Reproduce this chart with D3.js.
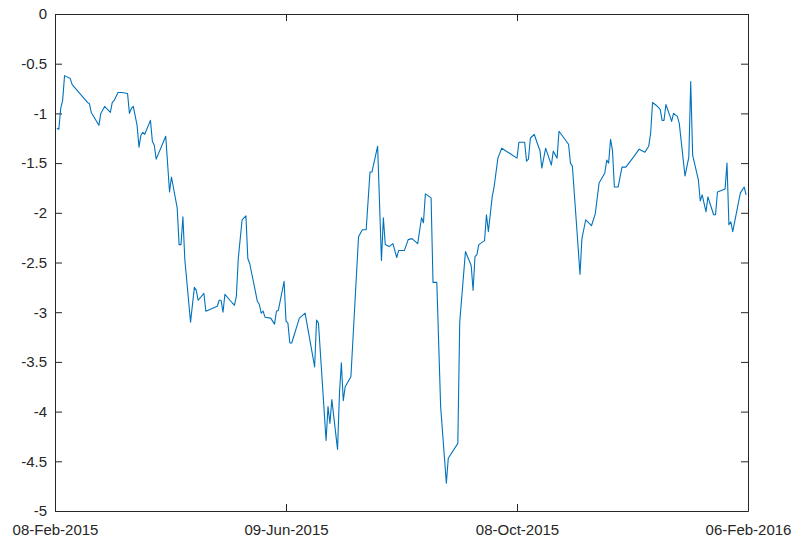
<!DOCTYPE html>
<html>
<head>
<meta charset="utf-8">
<script src="https://cdn.jsdelivr.net/npm/d3@7"></script>
<style>
  html, body { margin: 0; padding: 0; background: #fff; }
  svg { display: block; }
  .tick text { font-family: "Liberation Sans", Arial, Helvetica, sans-serif; font-size: 15px; fill: #262626; }
</style>
</head>
<body>
<svg id="chart" width="794" height="538"></svg>
<script>
// Series: days elapsed since the first date, and the value on that day
const startDate = "2015-02-08";
const endDate = "2016-02-06";
const dayOffsets = [
  1, 2, 3, 4, 5, 6, 8, 9, 17, 18, 19, 23, 24, 26, 29, 30, 31, 33, 35, 38,
  39, 40, 41, 43, 44, 45, 46, 47, 50, 51, 52, 53, 58, 60, 61, 64, 65, 66, 67, 68,
  71, 73, 74, 75, 78, 79, 85, 86, 87, 88, 89, 93, 94, 95, 96, 98, 100, 101, 102, 106,
  107, 108, 109, 110, 113, 115, 116, 117, 120, 121, 122, 123, 124, 128, 131, 136, 137, 138, 142, 143,
  144, 145, 148, 149, 150, 151, 152, 155, 159, 161, 163, 165, 166, 169, 171, 172, 173, 175, 177, 179,
  180, 183, 185, 187, 190, 192, 193, 194, 197, 198, 200, 202, 205, 206, 211, 212, 215, 218, 219, 220,
  221, 222, 225, 226, 227, 229, 230, 232, 234, 242, 243, 246, 247, 248, 249, 251, 253, 254, 255, 257,
  260, 261, 263, 264, 269, 270, 271, 273, 275, 276, 278, 281, 283, 285, 288, 289, 290, 291, 292, 293,
  295, 297, 299, 303, 306, 309, 311, 312, 313, 315, 317, 318, 319, 320, 322, 323, 324, 326, 327, 330,
  332, 333, 334, 337, 338, 339, 341, 342, 345, 346, 347, 351, 352, 353, 354, 355, 359, 361, 362
];
const values = [
  -1.15, -1.16, -0.95, -0.87, -0.62, -0.63, -0.65, -0.71, -0.89, -0.90, -0.99, -1.12, -1.00, -0.93, -0.99, -0.89, -0.87, -0.79, -0.79, -0.80,
  -1.00, -0.95, -0.93, -1.12, -1.34, -1.22, -1.19, -1.21, -1.07, -1.28, -1.32, -1.46, -1.23, -1.79, -1.64, -1.95, -2.32, -2.32, -2.04, -2.47,
  -3.10, -2.75, -2.78, -2.88, -2.81, -2.99, -2.94, -2.88, -2.88, -3.00, -2.82, -2.91, -2.93, -2.84, -2.46, -2.07, -2.03, -2.46, -2.51, -2.89,
  -2.92, -3.01, -2.99, -3.05, -3.06, -3.12, -2.99, -2.98, -2.69, -3.09, -3.11, -3.31, -3.31, -3.06, -3.01, -3.55, -3.08, -3.11, -4.29, -3.95,
  -4.12, -3.88, -4.38, -3.82, -3.51, -3.89, -3.75, -3.65, -2.24, -2.17, -2.17, -1.59, -1.59, -1.33, -2.48, -2.05, -2.32, -2.34, -2.31, -2.45,
  -2.38, -2.38, -2.27, -2.26, -2.31, -2.05, -2.10, -1.81, -1.85, -2.70, -2.70, -3.95, -4.72, -4.47, -4.32, -3.10, -2.39, -2.53, -2.78, -2.44,
  -2.42, -2.32, -2.28, -2.02, -2.19, -1.84, -1.74, -1.45, -1.35, -1.45, -1.29, -1.29, -1.48, -1.46, -1.25, -1.21, -1.32, -1.37, -1.55, -1.35,
  -1.52, -1.38, -1.45, -1.18, -1.31, -1.50, -1.53, -2.07, -2.62, -2.26, -2.07, -2.13, -2.01, -1.70, -1.60, -1.47, -1.50, -1.26, -1.37, -1.74,
  -1.74, -1.54, -1.54, -1.44, -1.36, -1.39, -1.33, -1.20, -0.89, -0.92, -0.96, -1.07, -1.07, -0.91, -1.02, -1.08, -1.00, -1.03, -1.10, -1.63,
  -1.44, -0.68, -1.42, -1.67, -1.88, -1.82, -1.99, -1.84, -2.02, -2.02, -1.79, -1.76, -1.50, -2.12, -2.09, -2.19, -1.80, -1.74, -1.82
];

// Axis ticks
const xTickDates = ["2015-02-08", "2015-06-09", "2015-10-08", "2016-02-06"];
const xTickLabels = ["08-Feb-2015", "09-Jun-2015", "08-Oct-2015", "06-Feb-2016"];
const yTicks = [0, -0.5, -1, -1.5, -2, -2.5, -3, -3.5, -4, -4.5, -5];
const yTickLabels = ["0", "-0.5", "-1", "-1.5", "-2", "-2.5", "-3", "-3.5", "-4", "-4.5", "-5"];

const parse = d3.utcParse("%Y-%m-%d");
const t0 = parse(startDate);
const data = dayOffsets.map((d, i) => ({ date: d3.utcDay.offset(t0, d), value: values[i] }));

const svg = d3.select("#chart");
const plotLeft = 55, plotRight = 748, plotTop = 14, plotBottom = 511;

const x = d3.scaleUtc().domain([t0, parse(endDate)]).range([plotLeft, plotRight]);
const y = d3.scaleLinear().domain([-5, 0]).range([plotBottom, plotTop]);

const axisColor = "#262626";
const tickLen = 7;

const xTicks = xTickDates.map(parse);
const xLabel = d => xTickLabels[xTicks.findIndex(t => +t === +d)];
const yLabel = d => yTickLabels[yTicks.indexOf(d)];

// Bottom and left axes carry the labels; top and right only ticks (boxed frame)
const gx = svg.append("g").attr("transform", `translate(0,${plotBottom})`)
  .call(d3.axisBottom(x).tickValues(xTicks).tickFormat(xLabel).tickSizeInner(-tickLen).tickSizeOuter(0).tickPadding(13));
const gxTop = svg.append("g").attr("transform", `translate(0,${plotTop})`)
  .call(d3.axisTop(x).tickValues(xTicks).tickFormat("").tickSizeInner(-tickLen).tickSizeOuter(0));
const gy = svg.append("g").attr("transform", `translate(${plotLeft},0)`)
  .call(d3.axisLeft(y).tickValues(yTicks).tickFormat(yLabel).tickSizeInner(-tickLen).tickSizeOuter(0).tickPadding(8));
const gyRight = svg.append("g").attr("transform", `translate(${plotRight},0)`)
  .call(d3.axisRight(y).tickValues(yTicks).tickFormat("").tickSizeInner(-tickLen).tickSizeOuter(0));

[gx, gxTop, gy, gyRight].forEach(g => {
  g.selectAll(".domain").attr("stroke", axisColor).attr("stroke-width", 1);
  g.selectAll(".tick line").attr("stroke", axisColor).attr("stroke-width", 1);
});

// Data line
svg.append("path")
  .datum(data)
  .attr("fill", "none")
  .attr("stroke", "#0072BD")
  .attr("stroke-width", 1.1)
  .attr("stroke-linejoin", "round")
  .attr("d", d3.line().x(d => x(d.date)).y(d => y(d.value)));
</script>
</body>
</html>
